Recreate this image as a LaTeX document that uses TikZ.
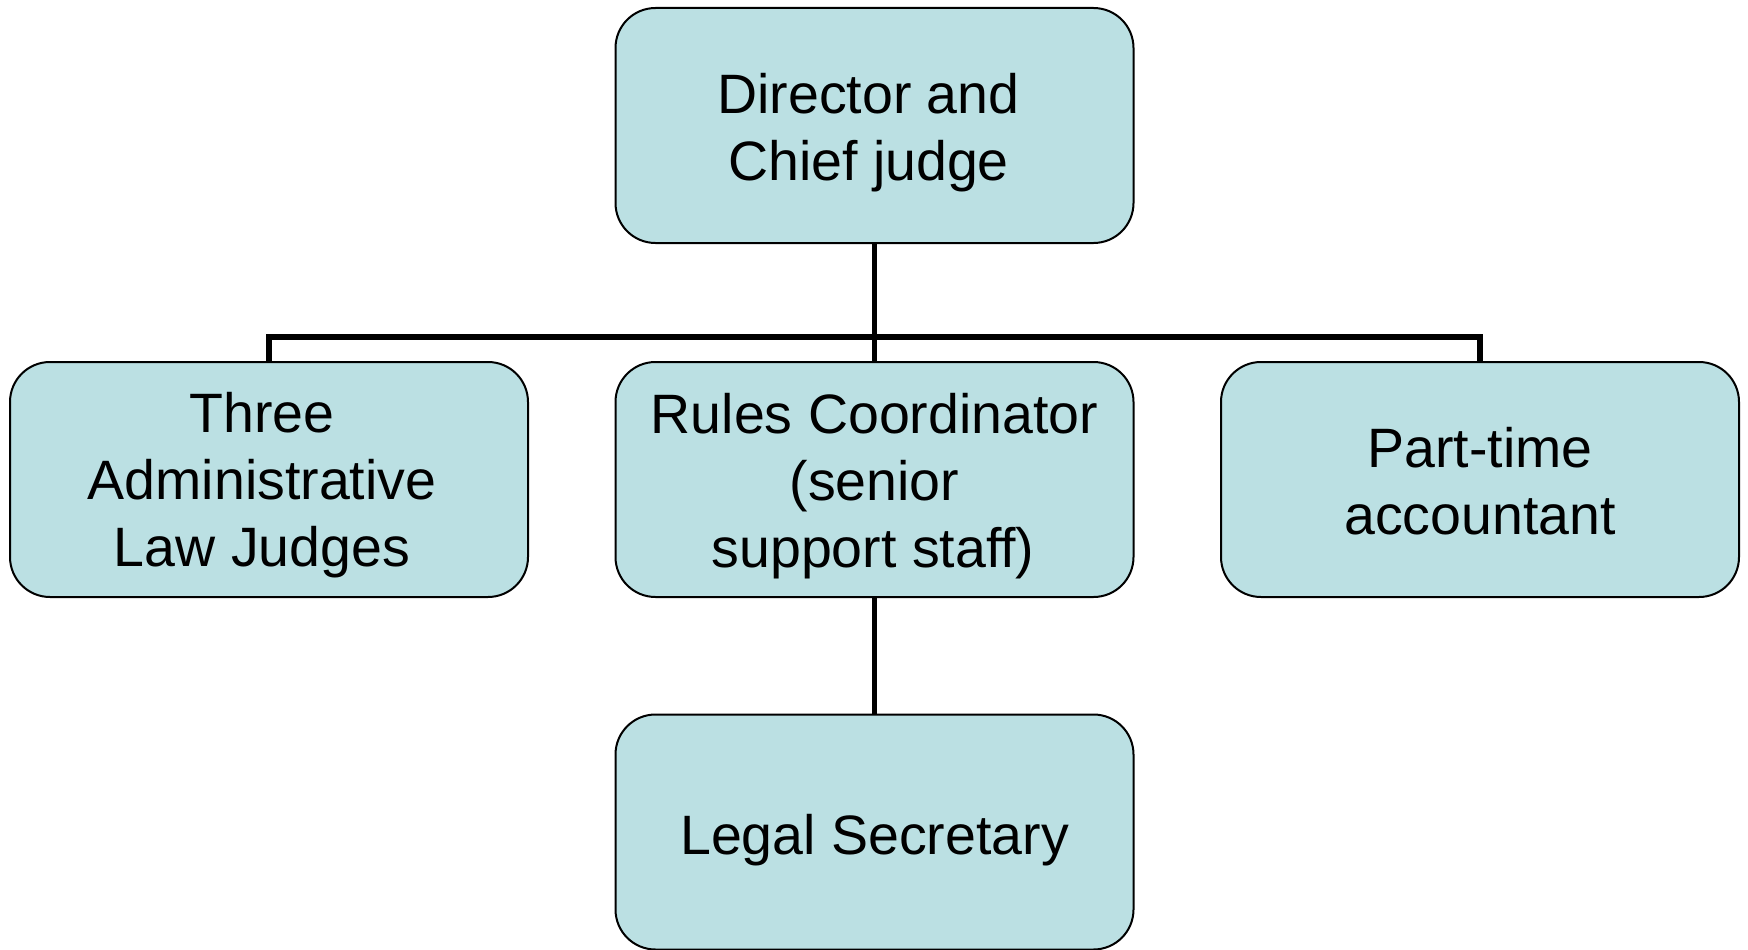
\documentclass[tikz,border=0pt]{standalone}
\usepackage{fontspec}
\setmainfont{Liberation Sans}
\definecolor{boxfill}{RGB}{187,224,227}
\begin{document}
\begin{tikzpicture}[x=1pt,y=-1pt,
  box/.style={draw=black, line width=2pt, fill=boxfill, rounded corners=40pt,
    minimum width=518pt, minimum height=235pt, inner sep=0pt},
  lbl/.style={inner sep=0pt, align=center, font=\fontsize{55.5}{67}\selectfont},
  conn/.style={draw=black, line width=5.5pt, line join=miter}]
\useasboundingbox (0,0) rectangle (1748,950);
\node[box] (top) at (874.5,125.5) {};
\node[box] (left) at (269,479.5) {};
\node[box] (mid) at (874.5,479.5) {};
\node[box] (right) at (1480,479.5) {};
\node[box] (legal) at (874.5,832) {};
\node[lbl] (topT) at ([xshift=-6pt,yshift=-7pt]top.center) {Director and\\Chief judge};
\node[lbl] (leftT) at ([xshift=-7pt,yshift=-6pt]left.center) {Three\\Administrative\\Law Judges};
\node[lbl] (midT) at ([yshift=-6.5pt]mid.center) {Rules Coordinator\\(senior\hspace*{11pt}\\support staff)\hspace*{3pt}};
\node[lbl] (rightT) at ([yshift=-1.5pt]right.center) {Part-time\\accountant};
\node[lbl] (legalT) at ([yshift=-8pt]legal.center) {Legal Secretary};
\coordinate (bus) at (874.5,337);
\draw[conn] (top.south) -- (top.south |- bus);
\draw[conn] (left.north) -- (left.north |- bus) -- (right.north |- bus) -- (right.north);
\draw[conn] (mid.north) -- (mid.north |- bus);
\draw[conn] (mid.south) -- (legal.north);
\end{tikzpicture}
\end{document}
